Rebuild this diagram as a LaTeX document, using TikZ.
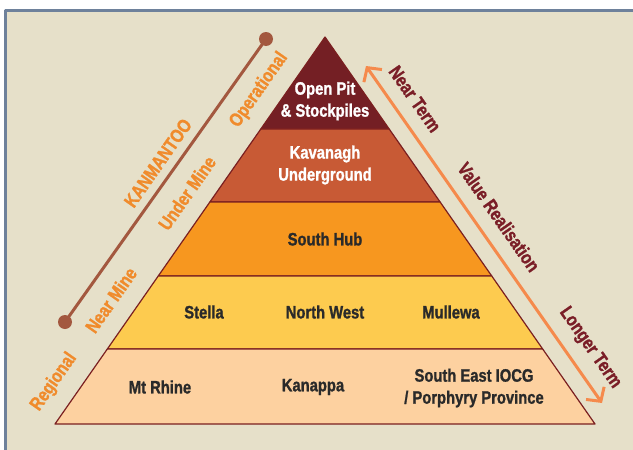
\documentclass[tikz,border=0pt]{standalone}
\usepackage{fontspec}
\newfontfamily\condfont[FakeStretch=0.82,FakeBold=1.2]{Liberation Sans}
\usetikzlibrary{calc,arrows.meta}
\definecolor{bgpaper}{HTML}{E6E0C9}
\definecolor{frameblue}{HTML}{6E819B}
\definecolor{tierone}{HTML}{741F24}
\definecolor{tiertwo}{HTML}{C85A35}
\definecolor{tierthree}{HTML}{F7971F}
\definecolor{tierfour}{HTML}{FDCB4F}
\definecolor{tierfive}{HTML}{FDD1A0}
\definecolor{edgered}{HTML}{7A1F20}
\definecolor{labelorange}{HTML}{F08B2C}
\definecolor{termred}{HTML}{7A1E27}
\definecolor{arroworange}{HTML}{F58A4C}
\definecolor{kanline}{HTML}{A3583F}
\definecolor{darktext}{HTML}{2A2A2A}
\begin{document}
\begin{tikzpicture}[x=1pt,y=-1pt,line join=round,line cap=round,
  tier/.style={font=\condfont\bfseries\fontsize{18}{22}\selectfont,align=center,text=darktext},
  tierw/.style={tier,text=white},
  side/.style={font=\condfont\bfseries\fontsize{19}{22}\selectfont,text=labelorange,rotate=55},
  term/.style={font=\condfont\bfseries\fontsize{19}{22}\selectfont,text=termred,rotate=-55},
  dot/.style={circle,fill=kanline,inner sep=0pt,minimum size=14pt}]
\useasboundingbox (0,0) rectangle (633,450);
\clip (0,0) rectangle (633,450);
% frame
\fill[bgpaper] (5,10) rectangle (640,460);
\draw[frameblue,line width=3pt,line cap=butt] (5,460) -- (5,10) -- (640,10);
% pyramid
\coordinate (A) at (325,37);
\coordinate (L) at (55,424);
\coordinate (R) at (595,424);
\foreach \ta/\tb/\col in {0/0.2377/tierone, 0.2377/0.4264/tiertwo, 0.4264/0.6176/tierthree, 0.6176/0.8062/tierfour, 0.8062/1/tierfive}{
  \filldraw[fill=\col,draw=edgered,line width=1.2pt] ($(A)!\ta!(L)$) -- ($(A)!\tb!(L)$) -- ($(A)!\tb!(R)$) -- ($(A)!\ta!(R)$) -- cycle;}
\node[tierw] (openpit) at (325,101) {Open Pit\\\& Stockpiles};
\node[tierw] (kavanagh) at (325,165) {Kavanagh\\Underground};
\node[tier] (southhub) at (325,239) {South Hub};
\node[tier] (stella) at (204,312) {Stella};
\node[tier] (northwest) at (325,312) {North West};
\node[tier] (mullewa) at (451,312) {Mullewa};
\node[tier] (mtrhine) at (160,387) {Mt Rhine};
\node[tier] (kanappa) at (313,387) {Kanappa};
\node[tier] (southeast) at (474,388) {South East IOCG\\/ Porphyry Province};
% left scale
\node[dot] (kantop) at (266,39) {};
\node[dot] (kanbot) at (65,322) {};
\draw[kanline,line width=3pt] (kantop) -- (kanbot);
\node[side] (kanmantoo) at (158,163) {KANMANTOO};
\node[side] (operational) at (259,90) {Operational};
\node[side] (undermine) at (187,193) {Under Mine};
\node[side] (nearmine) at (111,300) {Near Mine};
\node[side] (regional) at (54,382) {Regional};
% right scale
\coordinate (nearend) at (366,66);
\coordinate (longend) at (602,403);
\draw[arroworange,line width=3pt,{Straight Barb[length=10pt,width=22pt]}-{Straight Barb[length=10pt,width=22pt]}] (nearend) -- (longend);
\node[term] (nearterm) at (415,99) {Near Term};
\node[term] (value) at (499,217) {Value Realisation};
\node[term] (longterm) at (590,348) {Longer Term};
\end{tikzpicture}
\end{document}
